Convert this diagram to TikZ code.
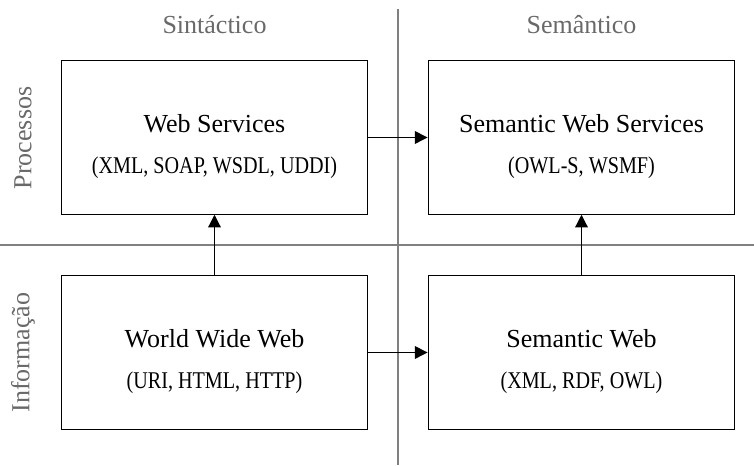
\documentclass[tikz,border=0pt]{standalone}
\usepackage{fontspec}
\setmainfont{Liberation Serif}
\newfontfamily\narrowserif{Liberation Serif}[FakeStretch=0.84]
\usetikzlibrary{arrows.meta}
\definecolor{axisgray}{RGB}{128,128,128}
\definecolor{labelgray}{RGB}{105,105,105}
\tikzset{
	box/.style={draw, line width=0.9pt, minimum width=230pt, minimum height=115pt, align=center, font=\fontsize{19.5}{30.75}\selectfont},
	axislabel/.style={text=labelgray, font=\fontsize{19.5}{22}\selectfont},
	link/.style={-{Triangle[length=9.5pt,width=9.5pt]}, line width=0.9pt}
}
\newcommand{\boxtitle}[1]{\rule{0pt}{26.5pt}#1}
\newcommand{\techs}[1]{{\narrowserif\fontsize{18}{30.75}\selectfont #1}}

\begin{document}
\begin{tikzpicture}[x=0.75pt, y=0.75pt]
		\useasboundingbox (0,0) rectangle (754,466);
		% axes
		\coordinate (vtop) at (398,457);
		\coordinate (vbot) at (398,1);
		\coordinate (hleft) at (0,221);
		\coordinate (hright) at (754,221);
		\draw [axisgray, line width=0.8pt](vtop)--(vbot);
		\draw [axisgray, line width=0.8pt](hleft)--(hright);
		\node (sin)[axislabel] at (214.5,441) {Sintáctico};
		\node (sem)[axislabel] at (581.5,441) {Semântico};
		\node (pro)[axislabel, rotate=90] at (23,328) {Processos};
		\node (inf)[axislabel, rotate=90] at (23,113.5) {Informação};
		%
		\node (ws)[box] at (214.5,328.5) {\boxtitle{Web Services}\\\techs{(XML, SOAP, WSDL, UDDI)}};
		\node (sws)[box] at (581.5,328.5) {\boxtitle{Semantic Web Services}\\\techs{(OWL-S, WSMF)}};
		\node (www)[box] at (214.5,113.5) {\boxtitle{World Wide Web}\\\techs{(URI, HTML, HTTP)}};
		\node (sw)[box] at (581.5,113.5) {\boxtitle{Semantic Web}\\\techs{(XML, RDF, OWL)}};
		%
		\draw [link](ws.east)--(sws.west);
		\draw [link](www.east)--(sw.west);
		\draw [link](www.north)--(ws.south);
		\draw [link](sw.north)--(sws.south);
	\end{tikzpicture}
\end{document}
